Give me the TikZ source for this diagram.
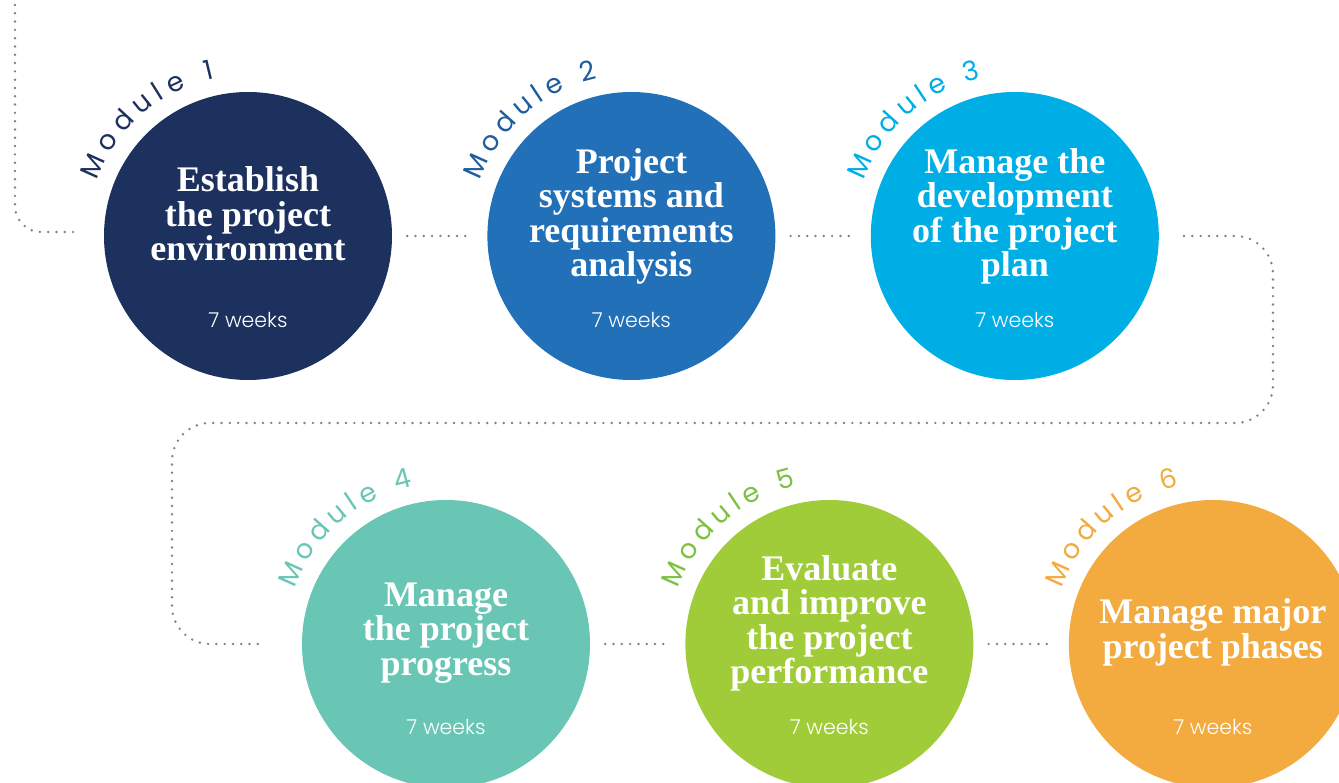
\documentclass[tikz,border=0pt]{standalone}
\usepackage{fontspec}
\setmainfont{Liberation Serif}
\newfontfamily\modfont{Poppins}
\newfontfamily\weekfont{Poppins Light}
\usetikzlibrary{positioning, decorations.text}

\definecolor{navy}{HTML}{1C315E}
\definecolor{royal}{HTML}{2271B8}
\definecolor{royaltext}{HTML}{1F5C9E}
\definecolor{sky}{HTML}{00AEE6}
\definecolor{seafoam}{HTML}{69C6B5}
\definecolor{lime}{HTML}{A1CC3A}
\definecolor{limetext}{HTML}{7CC142}
\definecolor{amber}{HTML}{F3AA3E}
\definecolor{dotgray}{HTML}{858080}

\newcommand\modlabel[3]{%
  \path[decorate, decoration={text along path, text align=fit to path,
      text={|\modfont\fontsize{27}{27}\selectfont\color{#2}|Module #3}}]
    (#1.center) ++(160:161pt) arc[start angle=160, end angle=102, radius=161pt];
}

\begin{document}
\begin{tikzpicture}[x=1pt, y=1pt, node distance=95pt,
    module/.style={circle, minimum size=288pt, inner sep=0pt},
    title/.style={text=white, align=center, font=\bfseries\fontsize{36}{34.5}\selectfont},
    weeks/.style={text=white, font=\weekfont\fontsize{20.5}{20.5}\selectfont},
    dotline/.style={draw=dotgray, line width=2.7pt, line cap=round, dash pattern=on 0pt off 8.3pt},
    gap/.style={shorten <=15pt, shorten >=15pt}]
	\clip (0,0) rectangle (1339,782);

	\node[module, fill=navy] (c1) at (248,546) {};
	\node[module, fill=royal] (c2) [right=of c1] {};
	\node[module, fill=sky] (c3) [right=of c2] {};
	\node[module, fill=seafoam] (c4) at (446,138) {};
	\node[module, fill=lime] (c5) [right=of c4] {};
	\node[module, fill=amber] (c6) [right=of c5] {};

	\node[title] (t1) at ([yshift=22pt]c1.center) {Establish\\the project\\environment};
	\node[title] (t2) at ([yshift=19.5pt]c2.center) {Project\\systems and\\requirements\\analysis};
	\node[title] (t3) at ([yshift=19.5pt]c3.center) {Manage the\\development\\of the project\\plan};
	\node[title] (t4) at ([yshift=11pt]c4.center) {Manage\\the project\\progress};
	\node[title] (t5) at ([yshift=20.5pt]c5.center) {Evaluate\\and improve\\the project\\performance};
	\node[title] (t6) at ([yshift=11.5pt]c6.center) {Manage major\\project phases};

	\node[weeks] (w1) at ([yshift=-84pt]c1.center) {7 weeks};
	\node[weeks] (w2) at ([yshift=-84pt]c2.center) {7 weeks};
	\node[weeks] (w3) at ([yshift=-84pt]c3.center) {7 weeks};
	\node[weeks] (w4) at ([yshift=-83pt]c4.center) {7 weeks};
	\node[weeks] (w5) at ([yshift=-83pt]c5.center) {7 weeks};
	\node[weeks] (w6) at ([yshift=-83pt]c6.center) {7 weeks};

	\modlabel{c1}{navy}{1}
	\modlabel{c2}{royaltext}{2}
	\modlabel{c3}{sky}{3}
	\modlabel{c4}{seafoam}{4}
	\modlabel{c5}{limetext}{5}
	\modlabel{c6}{amber}{6}

	% dotted track
	\coordinate (start) at (15,777);
	\coordinate (bendR) at (1273,359);
	\coordinate (bendL) at (172,359);
	\draw[dotline, rounded corners=26pt, shorten >=24pt] (start) |- ([yshift=4pt]c1.west);
	\path[dotline, gap] (c1) edge (c2)
	         (c2) edge (c3)
	         (c4) edge (c5)
	         (c5) edge (c6);
	\draw[dotline, rounded corners=38pt, shorten <=25pt, shorten >=40pt] (c3.east) -| (bendR) -- (bendL) |- (c4.west);

\end{tikzpicture}
\end{document}
